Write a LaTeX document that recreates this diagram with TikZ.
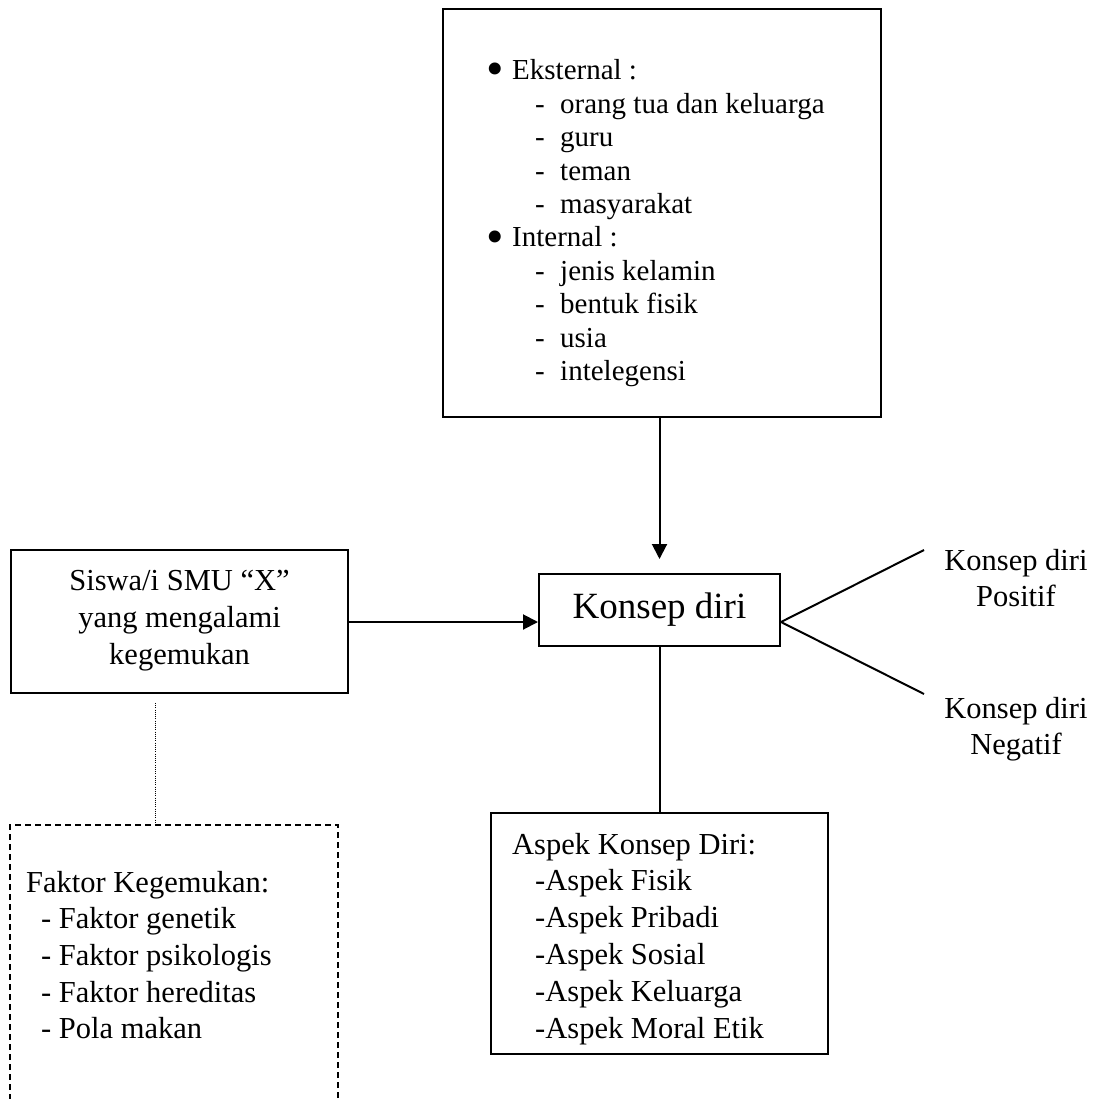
\documentclass[tikz,border=0pt]{standalone}
\usepackage{fontspec}
\setmainfont{Liberation Serif}
\usetikzlibrary{arrows.meta}
\begin{document}
\begin{tikzpicture}[x=1pt,y=-1pt,
  box/.style={draw, line width=2pt, inner sep=0pt},
  ln/.style={line width=2pt},
  arr/.style={line width=2pt, -{Triangle[width=15pt,length=15pt]}},
  txt/.style={inner sep=0pt, anchor=base west},
  ctxt/.style={inner sep=0pt, anchor=base},
  fa/.style={font=\fontsize{29}{33}\selectfont},
  fb/.style={font=\fontsize{30.5}{36}\selectfont},
  bul/.style={inner sep=0pt, anchor=base west, font=\fontsize{50}{50}\selectfont},
  dashbox/.style={draw, line width=2pt, dash pattern=on 6pt off 4pt, inner sep=0pt},
  dotln/.style={line width=0.9pt, dash pattern=on 1pt off 1.2pt}]
\useasboundingbox (0,0) rectangle (1099,1099);
\clip (0,0) rectangle (1099,1099);

% top box
\node[box, minimum width=438, minimum height=408] (top) at (662,213) {};
\node[bul] (b1) at (486,86) {•};
\node[txt, fa] (ext) at (512,80) {Eksternal :};
\foreach \t [count=\i] in {orang tua dan keluarga, guru, teman, masyarakat}{
  \node[txt, fa] (ed\i) at (535,80+33.4*\i) {-};
  \node[txt, fa] (et\i) at (560,80+33.4*\i) {\t};
}
\node[bul] (b2) at (486,86+33.4*5) {•};
\node[txt, fa] (int) at (512,80+33.4*5) {Internal :};
\foreach \t [count=\i] in {jenis kelamin, bentuk fisik, usia, intelegensi}{
  \node[txt, fa] (id\i) at (535,80+33.4*5+33.4*\i) {-};
  \node[txt, fa] (it\i) at (560,80+33.4*5+33.4*\i) {\t};
}

% konsep diri
\node[box, minimum width=241, minimum height=72, font=\fontsize{37}{40}\selectfont] (konsep) at (659.5,610) {Konsep diri};

% siswa box
\node[box, minimum width=337, minimum height=143] (siswa) at (179.5,621.5) {};
\node[ctxt, fb] (s1) at (179.5,590) {Siswa/i SMU “X”};
\node[ctxt, fb] (s2) at (179.5,627) {yang mengalami};
\node[ctxt, fb] (s3) at (179.5,664) {kegemukan};

% aspek box
\node[box, minimum width=337, minimum height=241] (aspek) at (659.5,933.5) {};
\node[txt, fb] (a0) at (512,854) {Aspek Konsep Diri:};
\foreach \t [count=\i] in {Fisik, Pribadi, Sosial, Keluarga, Moral Etik}{
  \node[txt, fb] (a\i) at (535,854+36.8*\i) {-Aspek \t};
}

% faktor box
\node[dashbox, minimum width=328, minimum height=295] (faktor) at (174,972.5) {};
\node[txt, fb] (f0) at (26,892) {Faktor Kegemukan:};
\foreach \t [count=\i] in {Faktor genetik, Faktor psikologis, Faktor hereditas, Pola makan}{
  \node[txt, fb] (f\i) at (41,892+36.7*\i) {- \t};
}

% right labels
\node[ctxt, fb] (p1) at (1016,570) {Konsep diri};
\node[ctxt, fb] (p2) at (1016,606) {Positif};
\node[ctxt, fb] (n1) at (1016,718) {Konsep diri};
\node[ctxt, fb] (n2) at (1016,754) {Negatif};
\coordinate (pe) at (924,550);
\coordinate (ne) at (924,694);
\coordinate (kr) at (konsep.east |- 0,622);

% connectors
\draw[arr] (top.south -| konsep.north) -- ([yshift=14pt]konsep.north);
\draw[arr] (siswa.east |- kr) -- (kr -| konsep.west);
\draw[ln] (konsep.south) -- (aspek.north);
\draw[ln] (kr) -- (pe);
\draw[ln] (kr) -- (ne);
\coordinate (dt) at (155,703);
\draw[dotln] (dt) -- (dt |- faktor.north);
\end{tikzpicture}
\end{document}
